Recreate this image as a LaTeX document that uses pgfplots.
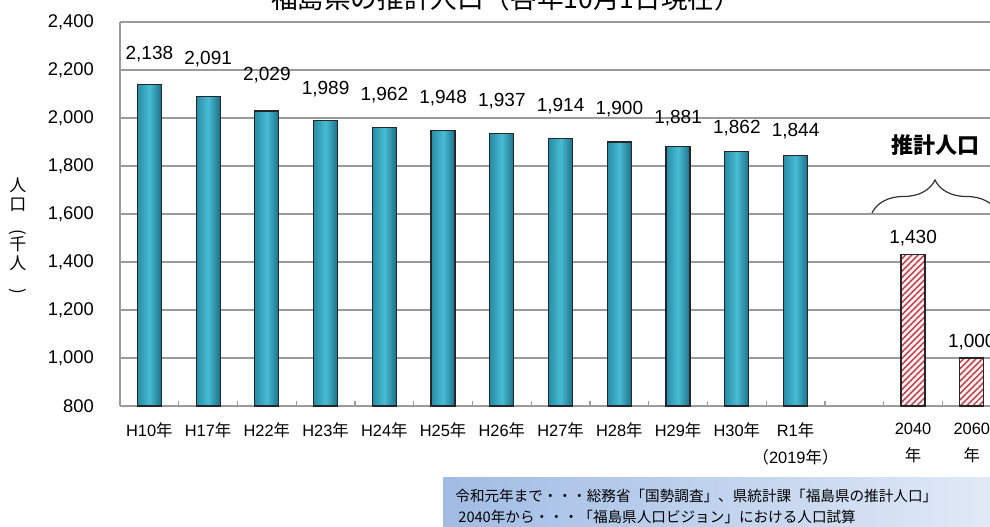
\documentclass[border=0pt]{standalone}
\usepackage{fontspec}
\setmainfont{Liberation Sans}
\newfontfamily\jp{Noto Sans CJK JP}
\usepackage{graphicx}
\usepackage{pgfplots}
\pgfplotsset{compat=1.18}
\usepackage{pgfplotstable}
\usetikzlibrary{patterns.meta,decorations.pathreplacing}
\newcommand{\nen}{{\jp 年}}

\definecolor{barleft}{RGB}{40,140,165}
\definecolor{barmid}{RGB}{72,188,212}
\definecolor{barright}{RGB}{28,112,136}
\definecolor{hatchc}{RGB}{185,60,72}
\definecolor{hatchbg}{RGB}{252,238,238}
\definecolor{gridc}{RGB}{155,155,155}

\pgfplotstableread{
x y dy
0 2138 12.75
1 2091 15.75
2 2029 15.25
3 1989 13.25
4 1962 13.25
5 1948 13.25
6 1937 13.25
7 1914 13.75
8 1900 13.75
9 1881 11.75
10 1862 8.75
11 1844 9.25
}\actual

\pgfplotstableread{
x y dy
13 1430 5.75
14 1000 5.25
}\future

\begin{document}
\begin{tikzpicture}[x=1pt,y=1pt]
\begin{axis}[
  at={(60pt,60pt)}, anchor=south west,
  scale only axis, width=435pt, height=192pt,
  xmin=-0.5, xmax=14.31, ymin=800, ymax=2400,
  enlargelimits=false,
  axis x line*=bottom, axis y line*=left,
  axis line style={-, draw=gridc, line width=0.6pt},
  ytick={800,1000,...,2400},
  ymajorgrids, grid style={gridc, line width=0.6pt},
  ytick style={draw=none},
  xtick={0,...,14},
  xticklabels={{H10\nen},{H17\nen},{H22\nen},{H23\nen},{H24\nen},{H25\nen},{H26\nen},{H27\nen},{H28\nen},{H29\nen},{H30\nen},{R1\nen\\{\jp （}2019\nen{\jp ）}},{},{2040\\\nen},{2060\\\nen}},
  minor xtick={0.5,1.5,...,13.5},
  major tick length=0pt,
  minor tick length=2.5pt,
  minor tick style={gridc, line width=0.6pt},
  xticklabel style={font=\fontsize{8.2}{13.5}\selectfont, align=center, yshift=-5pt, text=black},
  yticklabel style={font=\fontsize{9.2}{11}\selectfont, xshift=-9.5pt, text=black},
  /pgf/number format/1000 sep={,},
  /pgf/number format/assume math mode=true,
  clip=true,
]
\pgfplotsinvokeforeach{0,...,11}{
\addplot[ybar, bar width=12pt, bar shift=0pt, draw=black!85, line width=0.6pt,
  left color=barleft, right color=barright, middle color=barmid,
  restrict x to domain=#1:#1,
  nodes near coords, point meta=explicit,
  visualization depends on={\thisrow{dy} \as \dy},
  nodes near coords style={anchor=base, inner sep=0pt, yshift=\dy pt, text=black,
    font=\fontsize{9.5}{11}\selectfont,
    /pgf/number format/1000 sep={,}, /pgf/number format/assume math mode=true}]
  table[x=x, y=y, meta=y]{\actual};
}
\addplot[ybar, bar width=12pt, bar shift=0pt, draw=black!85, line width=0.6pt,
  fill=hatchbg,
  postaction={pattern={Lines[angle=45,distance=2.2pt,line width=0.7pt]}, pattern color=hatchc},
  nodes near coords, point meta=explicit,
  visualization depends on={\thisrow{dy} \as \dy},
  nodes near coords style={anchor=base, inner sep=0pt, yshift=\dy pt, text=black,
    font=\fontsize{9.5}{11}\selectfont,
    /pgf/number format/1000 sep={,}, /pgf/number format/assume math mode=true}]
  table[x=x, y=y, meta=y]{\future};
\end{axis}

% title (cut off at top as in the reference)
\node[anchor=base, font=\jp\fontsize{13.3}{16}\selectfont] at (253,258.5) {福島県の推計人口（各年10月1日現在）};

% y label, vertical
\node[font=\jp\fontsize{8.5}{9.5}\selectfont, align=center] at (9,145) {人\\口\\\rotatebox{-90}{(}\\千\\人\\\rotatebox{-90}{)}};

% brace annotation
\draw[decorate, decoration={brace, amplitude=16.5pt}, line width=0.6pt, black!80] (436,156.5) -- (499,156.5);
\node[font=\jp\bfseries\fontsize{11}{13}\selectfont] at (467.5,190.5) {推計人口};

% source box
\path[left color={rgb,255:red,160;green,188;blue,228}, right color={rgb,255:red,226;green,234;blue,247}] (221.5,0) rectangle (500,24.5);
\node[anchor=west, inner sep=0pt, font=\jp\fontsize{7.3}{9}\selectfont] at (227.5,15) {令和元年まで・・・総務省「国勢調査」、県統計課「福島県の推計人口」};
\node[anchor=west, inner sep=0pt, font=\jp\fontsize{7.3}{9}\selectfont] at (229,4.5) {2040年から・・・「福島県人口ビジョン」における人口試算};

\pgfresetboundingbox
\path[use as bounding box] (0,0) rectangle (495,263);
\end{tikzpicture}
\end{document}
